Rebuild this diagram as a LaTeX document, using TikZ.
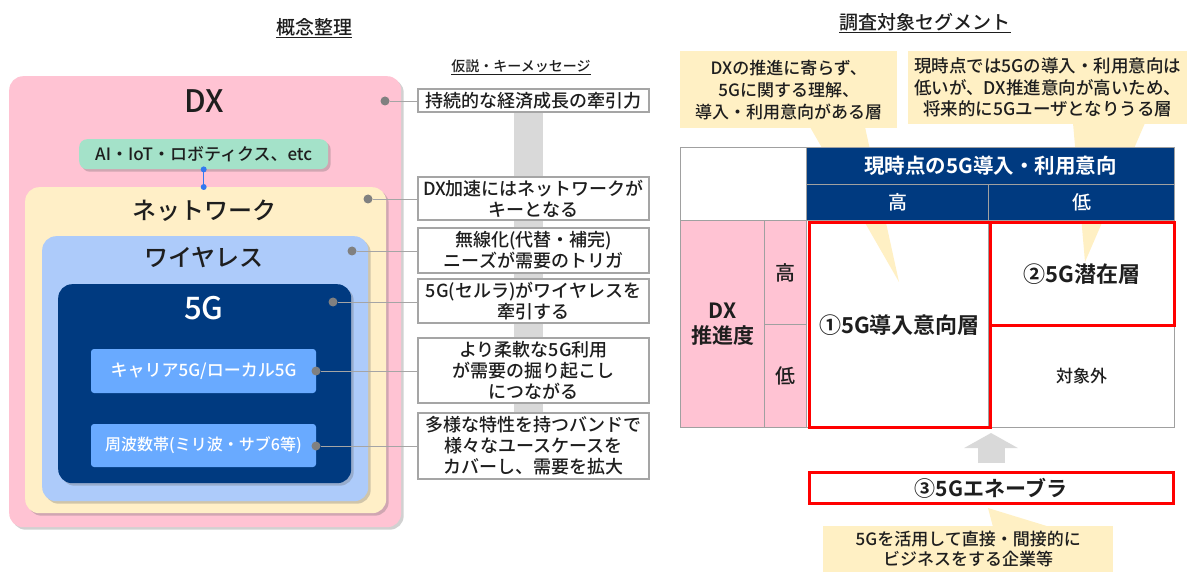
\documentclass[tikz,border=0pt]{standalone}
\usepackage{fontspec}
\setmainfont{Noto Sans CJK JP}[UprightFont=* Medium, BoldFont=* Bold]
\usetikzlibrary{shadows,calc,arrows.meta}
\definecolor{dxpink}{RGB}{255,195,211}
\definecolor{nwyellow}{RGB}{255,239,199}
\definecolor{wlblue}{RGB}{173,203,250}
\definecolor{navy}{RGB}{0,58,128}
\definecolor{midblue}{RGB}{105,170,255}
\definecolor{mint}{RGB}{164,226,201}
\definecolor{callout}{RGB}{255,240,196}
\definecolor{barcol}{RGB}{217,217,217}
\definecolor{dotgray}{RGB}{128,128,128}
\definecolor{linegray}{RGB}{165,165,165}
\definecolor{gridgray}{RGB}{160,160,160}
\definecolor{hiblue}{RGB}{50,120,240}
\definecolor{hired}{RGB}{255,0,0}
\definecolor{txt}{RGB}{30,30,30}
\begin{document}
\begin{tikzpicture}[x=1pt,y=-1pt,
  every node/.style={text=txt},
  layer/.style={rounded corners=14pt, inner sep=0pt, anchor=north west,
    drop shadow={shadow xshift=2.5pt,shadow yshift=-2.5pt,opacity=0.3,fill=black!60}},
  inbox/.style={rounded corners=3pt, inner sep=0pt, fill=midblue, text=white,
    font=\fontsize{17}{20}\selectfont},
  msg/.style={draw=linegray, line width=1.2pt, fill=white, align=center, inner sep=0pt,
    minimum width=231pt, font=\fontsize{18}{21}\selectfont,
    drop shadow={shadow xshift=1.2pt,shadow yshift=-1.2pt,opacity=0.2,fill=black!60}},
  gdot/.style={circle, fill=dotgray, inner sep=0pt, minimum size=9pt},
  bdot/.style={circle, fill=hiblue, inner sep=0pt, minimum size=6pt},
  link/.style={draw=linegray, line width=0.9pt},
  title/.style={inner sep=0pt, font=\fontsize{19}{22}\selectfont},
  cell/.style={draw=gridgray, line width=1.2pt, inner sep=0pt, anchor=north west, align=center},
  hcell/.style={cell, fill=navy, text=white},
  pcell/.style={cell, fill=dxpink},
  redbox/.style={draw=hired, line width=3pt, inner sep=0pt, anchor=north west, align=center,
    font=\bfseries\fontsize{22}{26}\selectfont},
  co/.style={fill=callout, inner sep=0pt, anchor=north west, align=center}
]
\useasboundingbox (0,0) rectangle (1192,572);

% ---------------- left: titles ----------------
\node[title] (t1) at (314,27) {概念整理};
\draw[line width=0.9pt, txt] ($(t1.south west)+(0,1.5)$) -- ($(t1.south east)+(0,1.5)$);
\node[title, font=\fontsize{14}{17}\selectfont] (t2) at (521,66) {仮説・キーメッセージ};
\draw[line width=0.8pt, txt] ($(t2.south west)+(0,1.5)$) -- ($(t2.south east)+(0,1.5)$);

% gray vertical bar behind messages
\fill[barcol] (514,105) rectangle (543,420);

% ---------------- left: nested layers ----------------
\node[layer, fill=dxpink, minimum width=392pt, minimum height=451pt] (dx) at (9,76) {};
\node[font=\fontsize{31}{34}\selectfont] (dxl) at (204,101) {DX};
\node[layer, fill=mint, rounded corners=8pt, minimum width=249pt, minimum height=30pt,
  font=\fontsize{17}{20}\selectfont] (ai) at (79,139) {};
\node[font=\fontsize{17}{20}\selectfont] (ail) at (ai.center) {AI・IoT・ロボティクス、etc};
\node[layer, fill=nwyellow, minimum width=361pt, minimum height=326pt] (nw) at (25,187) {};
\node[font=\fontsize{24}{28}\selectfont] (nwl) at (204,211) {ネットワーク};
\node[layer, fill=wlblue, minimum width=326pt, minimum height=265pt] (wl) at (42,236) {};
\node[font=\fontsize{24}{28}\selectfont] (wll) at (204,257) {ワイヤレス};
\node[layer, fill=navy, minimum width=293pt, minimum height=199pt] (fg) at (58,284) {};
\node[font=\fontsize{31}{34}\selectfont, text=white] (fgl) at (204,308) {5G};
\node[inbox, minimum width=225pt, minimum height=44pt] (car) at (203.5,371) {キャリア5G/ローカル5G};
\node[inbox, minimum width=225pt, minimum height=43pt, font=\fontsize{16}{19}\selectfont] (frq) at (203.5,445.5) {周波数帯(ミリ波・サブ6等)};

% blue connector
\draw[hiblue, line width=1pt] (ai.south) -- (ai.south |- nw.north);
\node[bdot] (b1) at (ai.south) {};
\node[bdot] (b2) at (ai.south |- nw.north) {};

% ---------------- left: messages ----------------
\node[msg, minimum height=23pt] (m1) at (533.5,100.5) {持続的な経済成長の牽引力};
\node[msg, minimum height=43pt] (m2) at (533.5,198.5) {DX加速にはネットワークが\\キーとなる};
\node[msg, minimum height=45pt] (m3) at (533.5,250.5) {無線化(代替・補完)\\ニーズが需要のトリガ};
\node[msg, minimum height=44pt] (m4) at (533.5,301) {5G(セルラ)がワイヤレスを\\牽引する};
\node[msg, minimum height=65pt] (m5) at (533.5,370.5) {より柔軟な5G利用\\が需要の掘り起こし\\につながる};
\node[msg, minimum height=66pt] (m6) at (533.5,446) {多様な特性を持つバンドで\\様々なユースケースを\\カバーし、需要を拡大};

\node[gdot] (d1) at (385,101) {};
\node[gdot] (d2) at (368,199) {};
\node[gdot] (d3) at (352,251) {};
\node[gdot] (d4) at (333,302) {};
\node[gdot] (d5) at (316,371) {};
\node[gdot] (d6) at (316,446) {};
\foreach \i in {1,...,6} { \draw[link] (d\i) -- (d\i -| m\i.west); }

% ---------------- right: title ----------------
\node[title] (t3) at (925,22) {調査対象セグメント};
\draw[line width=0.9pt, txt] ($(t3.south west)+(0,1.5)$) -- ($(t3.south east)+(0,1.5)$);

% table body cells (white)
\node[cell, fill=white, minimum width=182pt, minimum height=207pt] (c1) at (806,220) {};
\node[cell, fill=white, minimum width=186pt, minimum height=104pt] (c2) at (988,220) {};
\node[cell, fill=white, minimum width=186pt, minimum height=103pt,
  font=\fontsize{17}{20}\selectfont] (c3) at (988,324) {対象外};

% callouts with pointers
\fill[callout] (810,127) -- (899,282) -- (865,127) -- cycle;
\node[co, minimum width=217pt, minimum height=77pt, font=\fontsize{17}{22}\selectfont] (co1) at (680,51)
  {DXの推進に寄らず、\\5Gに関する理解、\\導入・利用意向がある層};
\fill[callout] (1073,123) -- (1085,262) -- (1145,123) -- cycle;
\node[co, minimum width=279pt, minimum height=73pt, font=\fontsize{17.5}{21.5}\selectfont] (co2) at (908,51)
  {現時点では5Gの導入・利用意向は\\低いが、DX推進意向が高いため、\\将来的に5Gユーザとなりうる層};

% table header and side cells
\node[cell, fill=white, minimum width=126pt, minimum height=73pt] (tl) at (680,147) {};
\node[hcell, minimum width=368pt, minimum height=37pt, font=\bfseries\fontsize{20.5}{24}\selectfont] (h1) at (806,147) {現時点の5G導入・利用意向};
\node[hcell, minimum width=182pt, minimum height=36pt, font=\fontsize{19}{22}\selectfont] (h2a) at (806,184) {高};
\node[hcell, minimum width=186pt, minimum height=36pt, font=\fontsize{19}{22}\selectfont] (h2b) at (988,184) {低};
\node[pcell, minimum width=84pt, minimum height=207pt, font=\bfseries\fontsize{21}{25}\selectfont] (pdx) at (680,220) {DX\\推進度};
\node[pcell, minimum width=42pt, minimum height=104pt, font=\fontsize{20}{23}\selectfont] (phi) at (764,220) {高};
\node[pcell, minimum width=42pt, minimum height=103pt, font=\fontsize{20}{23}\selectfont] (plo) at (764,324) {低};

% red segments
\node[redbox, minimum width=181pt, minimum height=204.5pt] (s1) at (807.5,221.5) {①5G導入意向層};
\node[redbox, minimum width=184pt, minimum height=102pt] (s2) at (988.5,221.5) {②5G潜在層};
\node[redbox, minimum width=364pt, minimum height=31pt, font=\bfseries\fontsize{21}{24}\selectfont] (s3) at (807.5,471) {③5Gエネーブラ};

% up arrow
\draw[barcol, line width=27pt, -{Triangle[length=15pt,width=53pt]}]
  ($(s3.north)+(0,-8)$) -- ($(s3.north)+(0,-38)$);

% bottom callout
\fill[callout] (988,508) -- (993,527) -- (1050,527) -- cycle;
\node[co, minimum width=290pt, minimum height=46pt, font=\fontsize{17}{20.5}\selectfont] (co3) at (823,526)
  {5Gを活用して直接・間接的に\\ビジネスをする企業等};
\end{tikzpicture}
\end{document}
